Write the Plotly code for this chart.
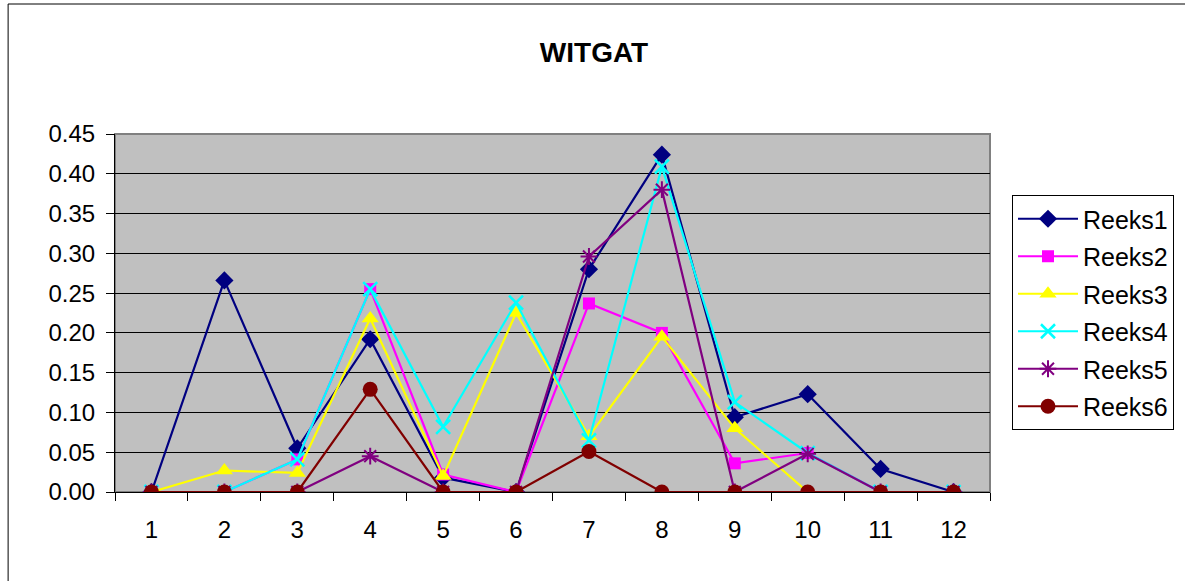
import plotly.graph_objects as go

categories = ["1", "2", "3", "4", "5", "6", "7", "8", "9", "10", "11", "12"]
reeks1 = [0.0, 0.266, 0.055, 0.192, 0.018, 0.0, 0.280, 0.424, 0.094, 0.123, 0.029, 0.0]
reeks2 = [0.0, 0.0, 0.041, 0.255, 0.022, 0.0, 0.237, 0.200, 0.036, 0.049, 0.0, 0.0]
reeks3 = [0.0, 0.027, 0.024, 0.218, 0.020, 0.225, 0.070, 0.195, 0.080, 0.0, 0.0, 0.0]
reeks4 = [0.0, 0.0, 0.041, 0.255, 0.082, 0.238, 0.065, 0.409, 0.113, 0.049, 0.0, 0.0]
reeks5 = [0.0, 0.0, 0.0, 0.045, 0.0, 0.0, 0.296, 0.380, 0.0, 0.048, 0.0, 0.0]
reeks6 = [0.0, 0.0, 0.0, 0.129, 0.0, 0.0, 0.051, 0.0, 0.0, 0.0, 0.0, 0.0]
y_ticks = [0.0, 0.05, 0.10, 0.15, 0.20, 0.25, 0.30, 0.35, 0.40, 0.45]

series = [
    ("Reeks1", reeks1, "#000080", dict(symbol="diamond", size=14)),
    ("Reeks2", reeks2, "#FF00FF", dict(symbol="square", size=12)),
    ("Reeks3", reeks3, "#FFFF00", dict(symbol="triangle-up", size=15)),
    ("Reeks4", reeks4, "#00FFFF", dict(symbol="x-thin-open", size=14, line=dict(width=2.5, color="#00FFFF"))),
    ("Reeks5", reeks5, "#800080", dict(symbol="asterisk-open", size=14, line=dict(width=2, color="#800080"))),
    ("Reeks6", reeks6, "#800000", dict(symbol="circle", size=15)),
]

fig = go.Figure()
for name, vals, color, mk in series:
    mk = dict(mk)
    mk["color"] = color
    fig.add_trace(go.Scatter(
        x=categories, y=vals, name=name, mode="lines+markers",
        line=dict(color=color, width=2.2), marker=mk, legendgroup=name,
    ))

W, H = 1185, 581
L, R, T, B = 115, 991, 134, 492
pw, ph = R - L, B - T

def px_x(p):
    return (p - L) / pw

def px_y(p):
    return (B - p) / ph

FONT = "Liberation Sans, Arial, sans-serif"

fig.update_layout(
    width=W, height=H,
    margin=dict(l=L, r=W - R, t=T, b=H - B, pad=0),
    paper_bgcolor="white",
    plot_bgcolor="#C0C0C0",
    font=dict(family=FONT, color="black", size=24),
    title=dict(text="<b>WITGAT</b>", x=594 / W, xanchor="center", y=1 - 52 / H, yanchor="middle",
               font=dict(size=28, family=FONT, color="black")),
    showlegend=True,
    legend=dict(
        x=px_x(1012), xanchor="left", y=px_y(195), yanchor="top",
        bgcolor="white", bordercolor="black", borderwidth=1,
        font=dict(size=25), traceorder="grouped", tracegroupgap=2,
        itemwidth=60,
    ),
    xaxis=dict(
        type="category", range=[-0.5, 11.5], tickson="boundaries",
        ticks="outside", ticklen=8, tickcolor="black", tickwidth=1,
        showline=True, linecolor="black", linewidth=1,
        showgrid=False, zeroline=False, fixedrange=True,
        tickfont=dict(size=24), ticklabelstandoff=16,
    ),
    yaxis=dict(
        range=[0, 0.45], tickvals=y_ticks, tickformat=".2f",
        ticks="outside", ticklen=8, tickcolor="black", tickwidth=1,
        showline=True, linecolor="black", linewidth=1,
        showgrid=True, gridcolor="black", gridwidth=1,
        zeroline=False, fixedrange=True, tickfont=dict(size=24),
        ticklabelstandoff=6,
    ),
    shapes=[
        dict(type="rect", xref="paper", yref="paper", x0=0, x1=1, y0=0, y1=1,
             line=dict(color="#808080", width=2), layer="below"),
        dict(type="rect", xref="paper", yref="paper",
             x0=px_x(8), x1=px_x(1192), y0=px_y(590), y1=px_y(4),
             line=dict(color="black", width=1), layer="below"),
    ],
)

fig.write_html(
    "out.html",
    config={"displayModeBar": False},
    post_script="document.body.style.margin='0';document.body.style.overflow='hidden';",
)
